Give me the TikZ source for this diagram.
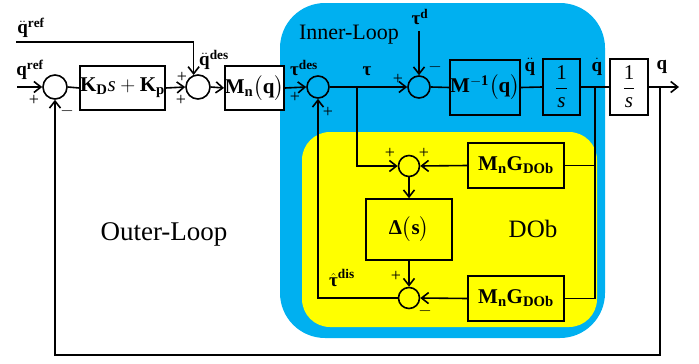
\documentclass[tikz,border=0pt]{standalone}
\usepackage{fontspec}
\setmainfont{Liberation Serif}
\usepackage{amsmath}
\usetikzlibrary{arrows.meta}
\definecolor{innerblue}{HTML}{00B0F0}
\definecolor{dobyellow}{HTML}{FFFF00}
\newcommand{\btau}{\text{\bfseries τ}}
\newcommand{\bdelta}{\text{\bfseries Δ}}

\begin{document}
\begin{tikzpicture}[x=1pt, y=-1pt,
		line width=1.6pt, >={Straight Barb[length=7pt,width=11pt]},
		sumnode/.style={circle, draw, minimum size=#1, inner sep=0pt},
		block/.style={draw, rectangle, inner sep=0pt, font=\fontsize{21}{24}\selectfont},
		lbl/.style={inner sep=0pt, font=\fontsize{19}{22}\selectfont},
		sgn/.style={inner sep=0pt, font=\fontsize{18}{20}\selectfont},
		region/.style={font=\fontsize{#1}{#1}\selectfont, inner sep=0pt}]

	\useasboundingbox (0,0) rectangle (699,364);

	% Regiones
	\fill[innerblue, rounded corners=45pt] (280,3) rectangle (605,338);
	\fill[dobyellow, rounded corners=28pt] (302,132) rectangle (597,327);
	\node[region=22] (inner) at (349,35) {Inner-Loop};
	\node[region=27] (outer) at (164,234) {Outer-Loop};
	\node[region=25] (dob) at (533,229) {DOb};

	% Lazo externo
	\coordinate (in) at (17,87);
	\coordinate (qddref) at (16,42);
	\node[sumnode=24pt] (s1) at (55,87) {};
	\node[block, minimum width=81pt, minimum height=44pt] (kpd) at (122.5,88) {$\mathbf{K}_{\mathbf{D}}\mathit{s}+\mathbf{K}_{\mathbf{p}}$};
	\node[sumnode=24pt] (s2) at (198,87) {};
	\node[block, fill=white, minimum width=47pt, minimum height=44pt] (mn) at (254.5,88) {$\mathbf{M}_{\mathbf{n}}\bigl(\mathbf{q}\bigr)$};

	% Lazo interno
	\node[sumnode=22pt] (s3) at (318,87) {};
	\coordinate (b1) at (357,87);
	\coordinate (td) at (419,31);
	\node[sumnode=22pt] (s4) at (419,87) {};
	\node[block, minimum width=66pt, minimum height=55pt] (minv) at (485,87.5) {$\mathbf{M}^{\mathbf{-1}}\bigl(\mathbf{q}\bigr)$};
	\node[block, minimum width=37pt, minimum height=56pt] (int1) at (561.5,87) {$\dfrac{\mathrm{1}}{\mathit{s}}$};
	\coordinate (b2) at (595,87);
	\node[block, fill=white, minimum width=38pt, minimum height=56pt] (int2) at (629,87) {$\dfrac{\mathrm{1}}{\mathit{s}}$};
	\coordinate (b3) at (660,87);
	\coordinate (out) at (679,87);

	% DOb
	\node[sumnode=21pt] (s5) at (409,166) {};
	\node[block, minimum width=96pt, minimum height=45pt] (gd1) at (516,165.5) {$\mathbf{M}_{\mathbf{n}}\mathbf{G}_{\mathbf{DOb}}$};
	\node[block, minimum width=86pt, minimum height=61pt] (delta) at (409,229.5) {$\bdelta\bigl(\mathbf{s}\bigr)$};
	\node[sumnode=21pt] (s6) at (409,298) {};
	\node[block, minimum width=96pt, minimum height=45pt] (gd2) at (516,298.5) {$\mathbf{M}_{\mathbf{n}}\mathbf{G}_{\mathbf{DOb}}$};

	% Conexiones
	\draw[->] (in) -- (s1.west);
	\draw (s1.east) -- (kpd.west);
	\draw[->] (kpd.east) -- (s2.west);
	\draw[->] (qddref) -| (s2.110);
	\draw[->] (s2.east) -- (mn.west);
	\draw[->] (mn.east) -- (s3.west);
	\draw[->] (s3.east) -- (s4.west);
	\draw[->] (td) -- (s4.north);
	\draw (s4.east) -- (minv.west);
	\draw (minv.east) -- (int1.west);
	\draw (int1.east) -- (int2.west);
	\draw[->] (int2.east) -- (out);
	\draw[->] (b1) |- (s5.west);
	\draw[->] (gd1.west) -- (s5.east);
	\draw (b2) |- (gd2.east); \draw (gd1.east) -- (gd1.east -| b2);
	\draw[->] (s5.south) -- (delta.north);
	\draw[->] (delta.south) -- (s6.north);
	\draw[->] (gd2.west) -- (s6.east);
	\draw[->] (s6.west) -| (s3.south);
	\draw[->] (b3) -- ++(0,268) -| (s1.south);

	% Etiquetas
	\node[lbl] (lqref) at (30,70) {$\mathbf{q}^{\mathbf{ref}}$};
	\node[lbl] (lqddref) at (31,28) {$\ddot{\mathbf{q}}^{\mathbf{ref}}$};
	\node[lbl] (lqdddes) at (214,60) {$\ddot{\mathbf{q}}^{\mathbf{des}}$};
	\node[lbl] (ltaudes) at (304,68) {$\btau^{\mathbf{des}}$};
	\node[lbl] (ltau) at (367,71) {$\btau$};
	\node[lbl] (ltaud) at (420,17) {$\btau^{\mathbf{d}}$};
	\node[lbl] (lqdd) at (530,67) {$\ddot{\mathbf{q}}$};
	\node[lbl] (lqd) at (597,67) {$\dot{\mathbf{q}}$};
	\node[lbl] (lq) at (662,67) {$\mathbf{q}$};
	\node[lbl] (ltaudis) at (342,278) {$\hat{\btau}^{\mathbf{dis}}$};

	% Signos
	\node[sgn] (p1) at (34,100) {+};
	\node[sgn] (m1) at (67,111) {$-$};
	\node[sgn] (p2) at (182,77) {+};
	\node[sgn] (p3) at (181,100) {+};
	\node[sgn] (p4) at (295,97) {+};
	\node[sgn] (p5) at (328,112) {+};
	\node[sgn] (p6) at (398,79) {+};
	\node[sgn] (m2) at (435,67) {$-$};
	\node[sgn] (p7) at (390,153) {+};
	\node[sgn] (p8) at (424,153) {+};
	\node[sgn] (p9) at (396,276) {+};
	\node[sgn] (m3) at (425,311) {$-$};
\end{tikzpicture}
\end{document}
